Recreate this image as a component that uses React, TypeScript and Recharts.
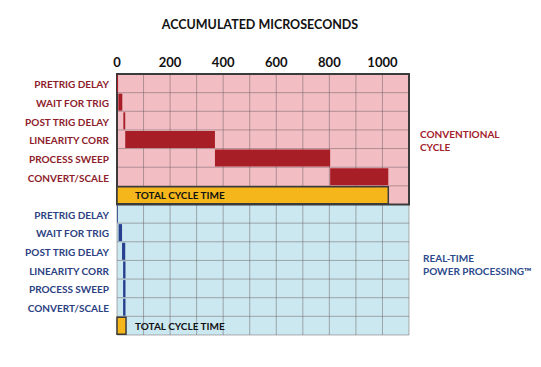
import React from "react";
import { Bar, BarChart, CartesianGrid, Cell, ReferenceArea, XAxis, YAxis } from "recharts";

// Step names (same for both cycles)
const tasks = [
  "PRETRIG DELAY",
  "WAIT FOR TRIG",
  "POST TRIG DELAY",
  "LINEARITY CORR",
  "PROCESS SWEEP",
  "CONVERT/SCALE",
];

// Accumulated microseconds, start / end of each step
const conventionalStart = [0, 5, 24, 31, 369, 803];
const conventionalEnd = [4, 20, 31, 369, 803, 1022];
const conventionalTotal = 1022;

const realtimeStart = [0, 6, 19, 23, 23, 23];
const realtimeEnd = [3, 19, 31, 32, 32, 32];
const realtimeTotal = 34;

const xLabels = [0, 200, 400, 600, 800, 1000];
const gridTicks = [0, 100, 200, 300, 400, 500, 600, 700, 800, 900, 1000, 1100];

const COLORS = {
  conv: { bg: "#f2bec3", bar: "#a81e26", text: "#8e1c2b" },
  rt: { bg: "#cbe8f0", bar: "#263f8e", text: "#2c4182" },
  total: "#f4b61b",
  border: "#3b3b3b",
};

type Row = {
  key: string;
  label: string;
  group: "conv" | "rt";
  offset: number;
  span: number;
  total: number;
};

const buildRows = (group: "conv" | "rt", starts: number[], ends: number[], total: number): Row[] => [
  ...tasks.map((label, i) => ({
    key: `${group}-${i}`,
    label,
    group,
    offset: starts[i],
    span: ends[i] - starts[i],
    total: 0,
  })),
  { key: `${group}-total`, label: "", group, offset: 0, span: 0, total },
];

const rows: Row[] = [
  ...buildRows("conv", conventionalStart, conventionalEnd, conventionalTotal),
  ...buildRows("rt", realtimeStart, realtimeEnd, realtimeTotal),
];

const FONT = "Lato, 'Open Sans', sans-serif";

const CategoryTick = (props: any) => {
  const { x, y, payload } = props;
  const row = rows.find((r) => r.key === payload.value);
  if (!row || !row.label) return null;
  return (
    <text
      x={x}
      y={y}
      dy={5}
      textAnchor="end"
      fontFamily={FONT}
      fontWeight={700}
      fontSize={10}
      fill={COLORS[row.group].text}
    >
      {row.label}
    </text>
  );
};

const ValueTick = (props: any) => {
  const { x, y, payload } = props;
  if (!xLabels.includes(payload.value)) return null;
  return (
    <text x={x} y={y} dy={1} textAnchor="middle" fontFamily={FONT} fontWeight={700} fontSize={13} fill="#111">
      {payload.value}
    </text>
  );
};

const TotalLabel = (props: any) => {
  const { x, y, height, value } = props;
  if (!value) return null;
  return (
    <text x={x + 18} y={y + height / 2} dy={4} fontFamily={FONT} fontWeight={700} fontSize={10} fill="#111">
      TOTAL CYCLE TIME
    </text>
  );
};

const App = () => {
  return (
    <div style={{ position: "absolute", left: 0, top: 0, width: 541, height: 367, background: "#fff" }}>
      <div
        style={{
          position: "absolute",
          left: 0,
          width: 520,
          top: 17,
          textAlign: "center",
          fontFamily: FONT,
          fontWeight: 700,
          fontSize: 12.5,
          lineHeight: "15px",
          color: "#111",
        }}
      >
        ACCUMULATED MICROSECONDS
      </div>
      <BarChart
        width={541}
        height={367}
        data={rows}
        layout="vertical"
        barCategoryGap={1}
        margin={{ top: 44, right: 132, bottom: 32, left: 0 }}
      >
        <CartesianGrid
          stroke="#6d5f66"
          strokeOpacity={0.5}
          horizontalFill={rows.map((r) => COLORS[r.group].bg)}
          fillOpacity={1}
          horizontalCoordinatesGenerator={({ offset }: any) =>
            [...rows, null].map((_, i) => offset.top + (i * offset.height) / rows.length)
          }
        />
        <XAxis
          type="number"
          orientation="top"
          domain={[0, 1100]}
          ticks={gridTicks}
          height={30}
          axisLine={false}
          tickLine={false}
          interval={0}
          tick={<ValueTick />}
        />
        <YAxis
          type="category"
          dataKey="key"
          width={117}
          axisLine={false}
          tickLine={false}
          interval={0}
          tick={<CategoryTick />}
        />
        <Bar dataKey="offset" stackId="a" fill="transparent" isAnimationActive={false} />
        <Bar dataKey="span" stackId="a" isAnimationActive={false}>
          {rows.map((r) => (
            <Cell key={r.key} fill={COLORS[r.group].bar} />
          ))}
        </Bar>
        <Bar
          dataKey="total"
          stackId="a"
          fill={COLORS.total}
          stroke={COLORS.border}
          strokeWidth={1.5}
          isAnimationActive={false}
          label={<TotalLabel />}
        />
        <ReferenceArea
          y1="conv-0"
          y2="conv-total"
          fill="none"
          stroke={COLORS.border}
          strokeWidth={2}
          fillOpacity={0}
        />
        <ReferenceArea
          y1="rt-0"
          y2="rt-total"
          fill="none"
          stroke={COLORS.border}
          strokeWidth={2}
          fillOpacity={0}
        />
      </BarChart>
      <div
        style={{
          position: "absolute",
          left: 420,
          top: 128,
          fontFamily: FONT,
          fontWeight: 700,
          fontSize: 10,
          lineHeight: "13px",
          whiteSpace: "nowrap",
          color: "#a3212c",
        }}
      >
        CONVENTIONAL
        <br />
        CYCLE
      </div>
      <div
        style={{
          position: "absolute",
          left: 423,
          top: 252,
          fontFamily: FONT,
          fontWeight: 700,
          fontSize: 10,
          lineHeight: "13px",
          whiteSpace: "nowrap",
          color: "#2c4a8c",
        }}
      >
        REAL-TIME
        <br />
        POWER PROCESSING™
      </div>
    </div>
  );
};

export default App;
